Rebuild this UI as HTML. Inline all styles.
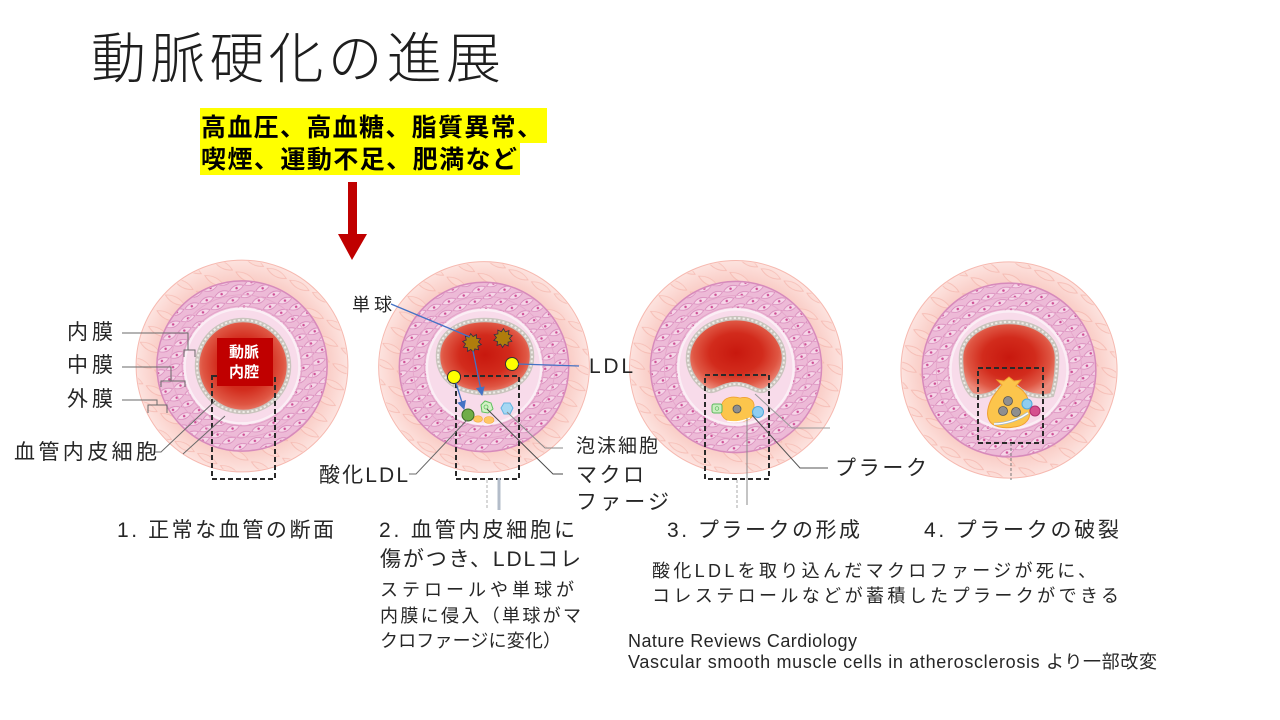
<!DOCTYPE html>
<html><head><meta charset="utf-8">
<style>
html,body{margin:0;padding:0;background:#fff;width:1280px;height:720px;overflow:hidden}
svg{display:block}
.t{font-family:"Liberation Sans","Noto Sans CJK JP",sans-serif;fill:#262626}
</style></head>
<body>
<svg width="1280" height="720" viewBox="0 0 1280 720">
<defs>
  <radialGradient id="advG" cx="0.5" cy="0.5" r="0.5">
    <stop offset="0.78" stop-color="#f9cac3"/>
    <stop offset="1" stop-color="#fde3df"/>
  </radialGradient>
  <radialGradient id="lumG" cx="0.5" cy="0.48" r="0.55">
    <stop offset="0" stop-color="#c8180e"/>
    <stop offset="0.5" stop-color="#d22b1c"/>
    <stop offset="0.8" stop-color="#df5643"/>
    <stop offset="1" stop-color="#ec8b7b"/>
  </radialGradient>
  <pattern id="advP" patternUnits="userSpaceOnUse" width="26" height="18" patternTransform="rotate(28)">
    <path d="M2 9 Q13 2.5 24 9 Q13 15.5 2 9Z" fill="#fcdad4" stroke="#f3b1a8" stroke-width=".8"/>
  </pattern>
  <pattern id="medP" patternUnits="userSpaceOnUse" width="13" height="16" patternTransform="rotate(-22) scale(1.25)">
    <path d="M0.5 4 Q6.5 -0.5 12.5 4 Q6.5 8.5 0.5 4Z" fill="#f6d6e8" stroke="#d685b8" stroke-width=".6"/>
    <circle cx="6.5" cy="4" r="1" fill="#cf4f96"/>
    <path d="M-6 12 Q0 7.5 6 12 Q0 16.5 -6 12Z M7 12 Q13 7.5 19 12 Q13 16.5 7 12Z" fill="#f6d6e8" stroke="#d685b8" stroke-width=".6"/>
    <circle cx="0" cy="12" r="1" fill="#cf4f96"/>
    <circle cx="13" cy="12" r="1" fill="#cf4f96"/>
  </pattern>
  <g id="vessel">
    <circle r="107" fill="url(#advG)" stroke="#f6b9b0" stroke-width="1"/>
    <circle r="106" fill="url(#advP)" opacity="0.75"/>
    <circle r="86" fill="#edbad7" stroke="#d78abb" stroke-width="1.5"/>
    <circle r="85" fill="url(#medP)"/>
    <circle r="72" fill="none" stroke="#e6a8cc" stroke-width="1"/>
    <circle r="58" fill="#f8dbea" stroke="#fbeef5" stroke-width="2.5"/>
    <circle r="60.5" fill="none" stroke="#e3a2c8" stroke-width="1"/>
  </g>
  <marker id="ah" markerWidth="9" markerHeight="9" refX="8" refY="4.5" orient="auto" markerUnits="userSpaceOnUse">
    <path d="M0,0 L9,4.5 L0,9 Z" fill="#4472c4"/>
  </marker>
  <path id="mono" d="M9.5,0 L6.18,2.01 L7.69,5.59 L3.82,5.26 L2.94,9.03 L0,6.5 L-2.94,9.03 L-3.82,5.26 L-7.69,5.59 L-6.18,2.01 L-9.5,0 L-6.18,-2.01 L-7.69,-5.59 L-3.82,-5.26 L-2.94,-9.03 L0,-6.5 L2.94,-9.03 L3.82,-5.26 L7.69,-5.59 L6.18,-2.01 Z" fill="#b07d0c" stroke="#2f2f4a" stroke-width=".8"/>
</defs>

<!-- Title -->
<text class="t" x="91" y="78" font-size="55" font-weight="300" textLength="410" lengthAdjust="spacing" style="fill:#1e1e1e">動脈硬化の進展</text>

<!-- Yellow risk box -->
<rect x="200" y="108" width="347" height="35" fill="#ffff00"/>
<rect x="200" y="143" width="320" height="32" fill="#ffff00"/>
<text class="t" x="201" y="136" font-size="25" font-weight="bold" textLength="341" lengthAdjust="spacing" style="fill:#000">高血圧、高血糖、脂質異常、</text>
<text class="t" x="201" y="168" font-size="25" font-weight="bold" textLength="316" lengthAdjust="spacing" style="fill:#000">喫煙、運動不足、肥満など</text>

<!-- Red arrow -->
<polygon points="348,182 357,182 357,234 367,234 352,260 338,234 348,234" fill="#c00000"/>

<!-- Vessel bases -->
<use href="#vessel" transform="translate(242,366) scale(0.99)"/>
<use href="#vessel" transform="translate(484,367) scale(0.985)"/>
<use href="#vessel" transform="translate(736,367) scale(0.995)"/>
<use href="#vessel" transform="translate(1009,370) scale(1.01)"/>

<!-- ===== Vessel 1 ===== -->
<circle cx="243" cy="366" r="46" fill="url(#lumG)" stroke="#c9c4bd" stroke-width="4.5"/>
<circle cx="243" cy="366" r="46" fill="none" stroke="#efece7" stroke-width="2" stroke-dasharray="2.2 2.2"/>
<rect x="212" y="376" width="63" height="103" fill="none" stroke="#2a2a2a" stroke-width="2" stroke-dasharray="5 3"/>
<rect x="217" y="338" width="56" height="48" fill="#c00000"/>
<text class="t" x="244" y="357" font-size="15" font-weight="bold" text-anchor="middle" style="fill:#fff">動脈</text>
<text class="t" x="244" y="377" font-size="15" font-weight="bold" text-anchor="middle" style="fill:#fff">内腔</text>

<!-- leaders vessel 1 -->
<g fill="none" stroke="#6a6a6a" stroke-width="1">
  <polyline points="122,333 188,333 188,350"/>
  <polyline points="184,357 184,350 195,350 195,357"/>
  <polyline points="122,367 171,367 171,381"/>
  <polyline points="161,387 161,381 185,381 185,387"/>
  <polyline points="122,400 157,400 157,405"/>
  <polyline points="148,413 148,405 167,405 167,413"/>
  <polyline points="155,452 161,452 215,401"/>
  <line x1="183" y1="454" x2="225" y2="416"/>
</g>
<text class="t" x="67" y="339" font-size="21" textLength="46" lengthAdjust="spacing">内膜</text>
<text class="t" x="67" y="372" font-size="21" textLength="46" lengthAdjust="spacing">中膜</text>
<text class="t" x="67" y="406" font-size="21" textLength="46" lengthAdjust="spacing">外膜</text>
<text class="t" x="14" y="459" font-size="21" textLength="143" lengthAdjust="spacing">血管内皮細胞</text>

<!-- ===== Vessel 2 ===== -->
<path d="M438,356 C438,334 458,320 485,320 C512,320 532,334 532,356 C532,378 514,393 485,393 C456,393 438,378 438,356Z" fill="url(#lumG)" stroke="#c9c4bd" stroke-width="4.5"/>
<path d="M438,356 C438,334 458,320 485,320 C512,320 532,334 532,356 C532,378 514,393 485,393 C456,393 438,378 438,356Z" fill="none" stroke="#efece7" stroke-width="2" stroke-dasharray="2.2 2.2"/>
<use href="#mono" transform="translate(472,343) rotate(10)"/>
<use href="#mono" transform="translate(503,338) rotate(-15)"/>
<rect x="456" y="376" width="63" height="103" fill="none" stroke="#2a2a2a" stroke-width="2" stroke-dasharray="5 3"/>
<!-- cells -->
<ellipse cx="478" cy="419" rx="4.5" ry="3.2" fill="#ffc766" stroke="#f5a93a" stroke-width=".6"/>
<ellipse cx="489" cy="420" rx="5" ry="3.5" fill="#ffc766" stroke="#f5a93a" stroke-width=".6"/>
<path d="M481,405 L485,401 L491,403 L493,409 L488,413 L482,412 Z" fill="#d4f2c6" stroke="#5fbf5f" stroke-width="1"/>
<circle cx="486" cy="407" r="2" fill="none" stroke="#5fbf5f" stroke-width=".8"/>
<path d="M501,408 L504,403 L510,403 L513,408 L510,414 L504,414 Z" fill="#a5d8f3" stroke="#62b3e0" stroke-width="1"/>
<circle cx="468" cy="415" r="6" fill="#70ad47" stroke="#3a6b22" stroke-width="1"/>
<circle cx="512" cy="364" r="6.5" fill="#ffff00" stroke="#333" stroke-width="1"/>
<circle cx="454" cy="377" r="6.5" fill="#ffff00" stroke="#333" stroke-width="1"/>
<!-- blue connectors -->
<g stroke="#4472c4" stroke-width="1.3" fill="none">
  <line x1="391" y1="304" x2="470" y2="337"/>
  <line x1="473" y1="351" x2="482" y2="395" marker-end="url(#ah)"/>
  <line x1="456" y1="383" x2="464" y2="409" marker-end="url(#ah)"/>
  <line x1="518" y1="364" x2="579" y2="366"/>
</g>
<g fill="none" stroke-width="1">
  <polyline points="409,474 416,474 467,420" stroke="#6a6a6a"/>
  <polyline points="507,412 545,448 563,448" stroke="#8a8a8a"/>
  <polyline points="487,409 553,474 563,474" stroke="#4a4a4a"/>
</g>
<line x1="499" y1="478" x2="499" y2="510" stroke="#b3bcc9" stroke-width="3"/>
<line x1="487" y1="480" x2="487" y2="510" stroke="#b0b0b0" stroke-width="1" stroke-dasharray="3 2"/>
<text class="t" x="352" y="311" font-size="18" textLength="40" lengthAdjust="spacing">単球</text>
<text class="t" x="589" y="373" font-size="21" textLength="44" lengthAdjust="spacing">LDL</text>
<text class="t" x="319" y="482" font-size="21" textLength="89" lengthAdjust="spacing">酸化LDL</text>
<text class="t" x="576" y="452" font-size="19" textLength="82" lengthAdjust="spacing">泡沫細胞</text>
<text class="t" x="576" y="482" font-size="21" textLength="68" lengthAdjust="spacing">マクロ</text>
<text class="t" x="576" y="509" font-size="21" textLength="93" lengthAdjust="spacing">ファージ</text>

<!-- ===== Vessel 3 ===== -->
<path d="M707,390 A48,40 0 1,1 765,390 C758,394 750,384 736,384 C722,384 714,394 707,390Z" fill="url(#lumG)" stroke="#c9c4bd" stroke-width="4.5"/>
<path d="M707,390 A48,40 0 1,1 765,390 C758,394 750,384 736,384 C722,384 714,394 707,390Z" fill="none" stroke="#efece7" stroke-width="2" stroke-dasharray="2.2 2.2"/>
<rect x="705" y="375" width="64" height="104" fill="none" stroke="#2a2a2a" stroke-width="2" stroke-dasharray="5 3"/>
<path d="M722,404 C724,397 733,396 740,398 C748,396 755,400 754,407 C756,415 750,422 740,421 C732,424 723,420 721,413 C718,410 719,406 722,404 Z" fill="#fcc54c" stroke="#f0a030" stroke-width=".8"/>
<path d="M727,421 C735,423 744,421 750,418" fill="none" stroke="#fff" stroke-width="1.3"/>
<circle cx="737" cy="409" r="4" fill="#8e8e8e" stroke="#555" stroke-width=".8"/>
<rect x="712" y="404" width="10" height="9" rx="2" fill="#c9eec0" stroke="#5cb85c" stroke-width="1"/>
<circle cx="717" cy="408.5" r="1.8" fill="none" stroke="#5cb85c" stroke-width=".7"/>
<circle cx="758" cy="412" r="5.5" fill="#8fcdf0" stroke="#4ea9dc" stroke-width="1"/>
<g fill="none" stroke-width="1">
  <polyline points="755,394 792,428 830,428" stroke="#9a9a9a"/>
  <polyline points="752,415 800,468 828,468" stroke="#555"/>
  <line x1="747" y1="418" x2="747" y2="505" stroke="#8a8a8a"/>
  <line x1="737" y1="480" x2="737" y2="508" stroke="#aaa" stroke-dasharray="3 2"/>
</g>
<text class="t" x="835" y="475" font-size="21" textLength="92" lengthAdjust="spacing">プラーク</text>

<!-- ===== Vessel 4 ===== -->
<path d="M972,395 C962,385 961,370 961,358 C961,337 982,322 1009,322 C1036,322 1057,337 1057,358 C1057,372 1055,386 1052,395 C1040,398 1025,395 1018,388 L1009,380 L1000,388 C992,395 980,398 972,395 Z" fill="url(#lumG)" stroke="#c9c4bd" stroke-width="4.5"/>
<path d="M972,395 C962,385 961,370 961,358 C961,337 982,322 1009,322 C1036,322 1057,337 1057,358 C1057,372 1055,386 1052,395 C1040,398 1025,395 1018,388 L1009,380 L1000,388 C992,395 980,398 972,395 Z" fill="none" stroke="#efece7" stroke-width="2" stroke-dasharray="2.2 2.2"/>
<rect x="978" y="368" width="65" height="75" fill="none" stroke="#2a2a2a" stroke-width="2" stroke-dasharray="5 3"/>
<path d="M1002,385 L997,380 L1004,381 L1009,377 L1014,381 L1021,380 L1016,386 C1024,390 1030,398 1029,408 C1032,418 1026,426 1014,427 C1004,429 992,427 989,420 C985,412 990,400 995,394 C998,390 1000,387 1002,385 Z" fill="#fcc54c" stroke="#f0a030" stroke-width="1"/>
<path d="M994,424 C1005,424 1018,420 1028,413" fill="none" stroke="#9ab6d8" stroke-width="2.6"/>
<path d="M994,424 C1005,424 1018,420 1028,413" fill="none" stroke="#fff" stroke-width="1.4"/>
<circle cx="1008" cy="401" r="4.5" fill="#8f8f8f" stroke="#555" stroke-width=".8"/>
<circle cx="1003" cy="411" r="4.5" fill="#8f8f8f" stroke="#555" stroke-width=".8"/>
<circle cx="1016" cy="412" r="4.5" fill="#8f8f8f" stroke="#555" stroke-width=".8"/>
<circle cx="1027" cy="404" r="5" fill="#8fcdf0" stroke="#4ea9dc" stroke-width="1"/>
<circle cx="1035" cy="411" r="5" fill="#d6508e" stroke="#b03070" stroke-width="1"/>
<line x1="1011" y1="443" x2="1011" y2="480" stroke="#777" stroke-width="1" stroke-dasharray="3 2"/>

<!-- Captions -->
<text class="t" x="117" y="537" font-size="21" textLength="217" lengthAdjust="spacing">1. 正常な血管の断面</text>
<text class="t" x="379" y="537" font-size="21" textLength="196" lengthAdjust="spacing">2. 血管内皮細胞に</text>
<text class="t" x="380" y="566" font-size="21" textLength="201" lengthAdjust="spacing">傷がつき、LDLコレ</text>
<text class="t" x="380" y="596" font-size="18" textLength="194" lengthAdjust="spacing">ステロールや単球が</text>
<text class="t" x="380" y="622" font-size="18" textLength="201" lengthAdjust="spacing">内膜に侵入（単球がマ</text>
<text class="t" x="380" y="647" font-size="18" textLength="181" lengthAdjust="spacing">クロファージに変化）</text>
<text class="t" x="667" y="537" font-size="21" textLength="193" lengthAdjust="spacing">3. プラークの形成</text>
<text class="t" x="924" y="537" font-size="21" textLength="195" lengthAdjust="spacing">4. プラークの破裂</text>
<text class="t" x="652" y="577" font-size="18" textLength="444" lengthAdjust="spacing">酸化LDLを取り込んだマクロファージが死に、</text>
<text class="t" x="652" y="602" font-size="18" textLength="467" lengthAdjust="spacing">コレステロールなどが蓄積したプラークができる</text>
<text class="t" x="628" y="647" font-size="18" textLength="229" lengthAdjust="spacing">Nature Reviews Cardiology</text>
<text class="t" x="628" y="668" font-size="18" textLength="529" lengthAdjust="spacing">Vascular smooth muscle cells in atherosclerosis より一部改変</text>
</svg>
</body></html>
